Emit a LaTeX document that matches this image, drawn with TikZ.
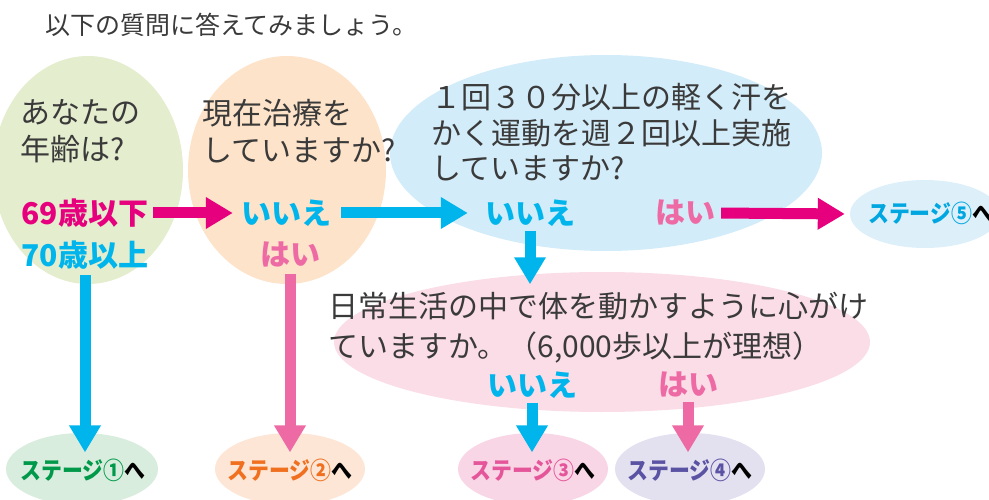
\documentclass[tikz,border=0pt]{standalone}
\usepackage{fontspec}
\newfontfamily\jp{Noto Sans CJK JP}
\usetikzlibrary{shapes.geometric,arrows.meta}
\definecolor{txtgray}{HTML}{3A3A3A}
\definecolor{magentaA}{HTML}{E6007E}
\definecolor{cyanA}{HTML}{00B5EC}
\definecolor{pinkA}{HTML}{EE6AA5}
\definecolor{fgreen}{HTML}{E4EDCE}
\definecolor{forange}{HTML}{FDE3C9}
\definecolor{fblue}{HTML}{D3ECF9}
\definecolor{fpink}{HTML}{FBDDE8}
\definecolor{s1fill}{HTML}{D9EDDE}
\definecolor{s2fill}{HTML}{FDE6D5}
\definecolor{s3fill}{HTML}{F9D6E6}
\definecolor{s4fill}{HTML}{E3E0F0}
\definecolor{s5fill}{HTML}{DDF0FA}
\definecolor{s1col}{HTML}{00994A}
\definecolor{s2col}{HTML}{F07020}
\definecolor{s3col}{HTML}{E5559A}
\definecolor{s4col}{HTML}{5A52A3}
\definecolor{s5col}{HTML}{00A6E0}
\newcommand\stagelabel[2]{\scalebox{0.87}[1]{\textcolor{#1}{ステージ#2}\textcolor{black}{へ}}}
\tikzset{
  blob/.style={ellipse, draw=none, inner sep=0pt},
  qtext/.style={font=\jp\fontsize{30}{37}\selectfont, text=txtgray, align=left, inner sep=0pt, anchor=west},
  answer/.style={font=\jp\bfseries\fontsize{30}{32}\selectfont, inner sep=0pt},
  stagetxt/.style={font=\jp\bfseries\fontsize{24}{26}\selectfont, inner sep=0pt},
  bigarrow/.style={line width=11pt, -{Triangle[length=27pt,width=30pt]}},
}
\begin{document}
\begin{tikzpicture}[x=1pt,y=-1pt]
\useasboundingbox (0,0) rectangle (989,500);
% title
\node[font=\jp\fontsize{25}{30}\selectfont, text=txtgray, anchor=west, inner sep=0pt] (title) at (45,25) {以下の質問に答えてみましょう。};
% background ellipses
\node[blob, fill=fgreen, minimum width=190pt, minimum height=228pt] (e1) at (88,170) {};
\node[blob, fill=forange, minimum width=198pt, minimum height=228pt] (e2) at (287,170) {};
\node[blob, fill=fblue, minimum width=432pt, minimum height=196pt] (e3) at (606,153) {};
\node[blob, fill=s5fill, minimum width=150pt, minimum height=68pt] (s5) at (925,214) {};
\node[blob, fill=fpink, minimum width=536pt, minimum height=140pt] (e4) at (602,342) {};
\node[blob, fill=s1fill, minimum width=152pt, minimum height=72pt] (s1) at (82,469) {};
\node[blob, fill=s2fill, minimum width=150pt, minimum height=72pt] (s2) at (290,469) {};
\node[blob, fill=s3fill, minimum width=150pt, minimum height=72pt] (s3) at (533,469) {};
\node[blob, fill=s4fill, minimum width=150pt, minimum height=72pt] (s4) at (690,469) {};
% questions
\node[qtext] (q1) at (20,131.5) {あなたの\\年齢は?};
\node[qtext] (q2) at (202,131.5) {現在治療を\\していますか?};
\node[qtext, font=\jp\fontsize{30}{35.5}\selectfont] (q3) at (431,132.5) {１回３０分以上の軽く汗を\\かく運動を週２回以上実施\\していますか?};
\node[qtext, font=\jp\fontsize{30}{40}\selectfont] (q4) at (328,328) {日常生活の中で体を動かすように心がけ\\ていますか。（6,000歩以上が理想）};
% answers
\node[answer, text=magentaA] (l69) at (85,213) {69歳以下};
\node[answer, text=cyanA] (l70) at (85,255) {70歳以上};
\node[answer, text=cyanA] (no1) at (286,213) {いいえ};
\node[answer, text=pinkA] (yes1) at (290,255) {はい};
\node[answer, text=cyanA] (no2) at (530,213) {いいえ};
\node[answer, text=pinkA] (yes2) at (685,213) {はい};
\node[answer, text=cyanA] (no3) at (532,385) {いいえ};
\node[answer, text=pinkA] (yes3) at (688,385) {はい};
% stage labels
\node[stagetxt] (t1) at (83,470) {\stagelabel{s1col}{①}};
\node[stagetxt] (t2) at (290,470) {\stagelabel{s2col}{②}};
\node[stagetxt] (t3) at (533,470) {\stagelabel{s3col}{③}};
\node[stagetxt] (t4) at (690,470) {\stagelabel{s4col}{④}};
\node[stagetxt, anchor=west] (t5) at (868,213) {\stagelabel{s5col}{⑤}};
% arrows
\draw[bigarrow, magentaA, shorten <=5pt, shorten >=8pt] (l69.east) -- (no1.west);
\draw[bigarrow, cyanA, shorten <=10pt, shorten >=17pt] (no1.east) -- (no2.west);
\draw[bigarrow, magentaA, shorten <=6pt, shorten >=5pt] (yes2.east) -- (s5.west);
\draw[bigarrow, cyanA, shorten <=4pt, shorten >=8pt] (no2.south) -- (no2.south |- q4.north);
\draw[bigarrow, cyanA, shorten <=6pt, shorten >=6pt] (l70.south) -- (l70.south |- t1.north);
\draw[bigarrow, pinkA, shorten <=6pt, shorten >=6pt] (yes1.south) -- (yes1.south |- t2.north);
\draw[bigarrow, cyanA, shorten <=4pt, shorten >=6pt] (no3.south) -- (no3.south |- t3.north);
\draw[bigarrow, pinkA, shorten <=4pt, shorten >=6pt] (yes3.south) -- (yes3.south |- t4.north);
\end{tikzpicture}
\end{document}
